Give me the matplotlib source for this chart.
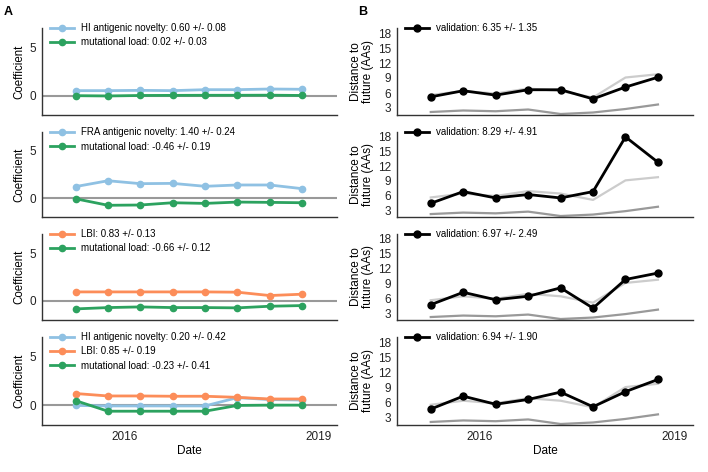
import numpy as np
import matplotlib
matplotlib.use("Agg")
import matplotlib.pyplot as plt

plt.rcParams['font.family'] = ['Liberation Sans', 'DejaVu Sans']

# timepoints (decimal years, every 6 months)
dates = [2015.25, 2015.75, 2016.25, 2016.75, 2017.25, 2017.75, 2018.25, 2018.75]

# coefficients per model (left column)
hi_1 = [0.52, 0.52, 0.55, 0.52, 0.62, 0.62, 0.69, 0.66]
mut_1 = [0.0, -0.03, 0.02, 0.03, 0.04, 0.04, 0.05, 0.02]

fra_2 = [1.22, 1.84, 1.53, 1.56, 1.25, 1.39, 1.39, 1.00]
mut_2 = [-0.07, -0.76, -0.73, -0.49, -0.56, -0.42, -0.45, -0.49]

lbi_3 = [0.94, 0.94, 0.94, 0.94, 0.94, 0.91, 0.56, 0.70]
mut_3 = [-0.84, -0.70, -0.63, -0.70, -0.70, -0.73, -0.56, -0.49]

hi_4 = [0.0, -0.05, -0.05, -0.05, -0.05, 0.80, 0.60, 0.55]
lbi_4 = [1.22, 0.97, 0.97, 0.94, 0.94, 0.83, 0.66, 0.66]
mut_4 = [0.49, -0.59, -0.59, -0.59, -0.59, 0.0, 0.03, 0.03]

# distance to future (right column)
naive_upper = [5.6, 6.4, 5.9, 6.9, 6.4, 5.1, 9.1, 9.75]
naive_lower = [2.2, 2.5, 2.35, 2.7, 1.8, 2.1, 2.8, 3.7]
val_1 = [5.23, 6.45, 5.57, 6.65, 6.65, 4.82, 7.19, 9.15]
val_2 = [4.4, 6.8, 5.5, 6.2, 5.5, 6.8, 18.0, 12.8]
val_3 = [4.7, 7.2, 5.7, 6.4, 8.1, 4.0, 9.8, 11.1]
val_4 = [4.75, 7.3, 5.7, 6.65, 8.1, 5.2, 8.2, 10.6]

blue = '#8fc1e3'
green = '#2ca25f'
orange = '#fc8d59'

left_series = [
    [("HI antigenic novelty: 0.60 +/- 0.08", hi_1, blue),
     ("mutational load: 0.02 +/- 0.03", mut_1, green)],
    [("FRA antigenic novelty: 1.40 +/- 0.24", fra_2, blue),
     ("mutational load: -0.46 +/- 0.19", mut_2, green)],
    [("LBI: 0.83 +/- 0.13", lbi_3, orange),
     ("mutational load: -0.66 +/- 0.12", mut_3, green)],
    [("HI antigenic novelty: 0.20 +/- 0.42", hi_4, blue),
     ("LBI: 0.85 +/- 0.19", lbi_4, orange),
     ("mutational load: -0.23 +/- 0.41", mut_4, green)],
]
right_series = [
    ("validation: 6.35 +/- 1.35", val_1),
    ("validation: 8.29 +/- 4.91", val_2),
    ("validation: 6.97 +/- 2.49", val_3),
    ("validation: 6.94 +/- 1.90", val_4),
]

W, H = 708, 472
fig = plt.figure(figsize=(W / 100, H / 100), dpi=100)
rows = [(28, 115), (132, 217), (234, 320), (337, 425)]
xlim = (2014.73, 2019.29)


def style(ax, last):
    for s in ['top', 'right']:
        ax.spines[s].set_visible(False)
    for s in ['left', 'bottom']:
        ax.spines[s].set_color('#333333')
        ax.spines[s].set_linewidth(1.0)
    ax.tick_params(length=0, labelsize=8.5, colors='#222222', pad=4)
    ax.set_xlim(*xlim)
    ax.set_xticks([2016, 2019])
    if last:
        ax.set_xticklabels(['2016', '2019'])
        ax.set_xlabel('Date', fontsize=8.5, labelpad=2)
    else:
        ax.set_xticklabels([])


for i, (t, b) in enumerate(rows):
    last = i == len(rows) - 1
    # left: coefficients
    ax = fig.add_axes([42 / W, 1 - b / H, (337 - 42) / W, (b - t) / H])
    ax.axhline(0, color='#999999', lw=1.5, zorder=1)
    for label, vals, c in left_series[i]:
        ax.plot(dates, vals, '-o', color=c, lw=2.0, ms=4.5, label=label, zorder=3)
    ax.set_ylim(-2, 7)
    ax.set_yticks([0, 5])
    ax.set_ylabel('Coefficient', fontsize=8.3, labelpad=3)
    style(ax, last)
    ax.legend(loc='upper left', bbox_to_anchor=(0.02, 1.08), frameon=False,
              fontsize=7, handlelength=2.5, handletextpad=0.7,
              labelspacing=0.45, borderaxespad=0, borderpad=0.2)

    # right: distance to future
    ax = fig.add_axes([397 / W, 1 - b / H, (693 - 397) / W, (b - t) / H])
    ax.plot(dates, naive_upper, '-', color='#cccccc', lw=1.6, zorder=2)
    ax.plot(dates, naive_lower, '-', color='#999999', lw=1.6, zorder=2)
    label, vals = right_series[i]
    ax.plot(dates, vals, '-o', color='black', lw=2.0, ms=5, label=label, zorder=3)
    ax.set_ylim(1.6, 19)
    ax.set_yticks([3, 6, 9, 12, 15, 18])
    ax.set_ylabel('Distance to\nfuture (AAs)', fontsize=8.5, labelpad=3,
                  linespacing=0.95)
    style(ax, last)
    ax.legend(loc='upper left', bbox_to_anchor=(0.02, 1.08), frameon=False,
              fontsize=7, handlelength=2.5, handletextpad=0.7,
              borderaxespad=0, borderpad=0.2)

fig.text(4 / W, 1 - 12 / H, 'A', fontsize=9, fontweight='bold', va='center')
fig.text(358 / W, 1 - 12 / H, 'B', fontsize=9, fontweight='bold', va='center')

fig.savefig('out.png', dpi=100)
